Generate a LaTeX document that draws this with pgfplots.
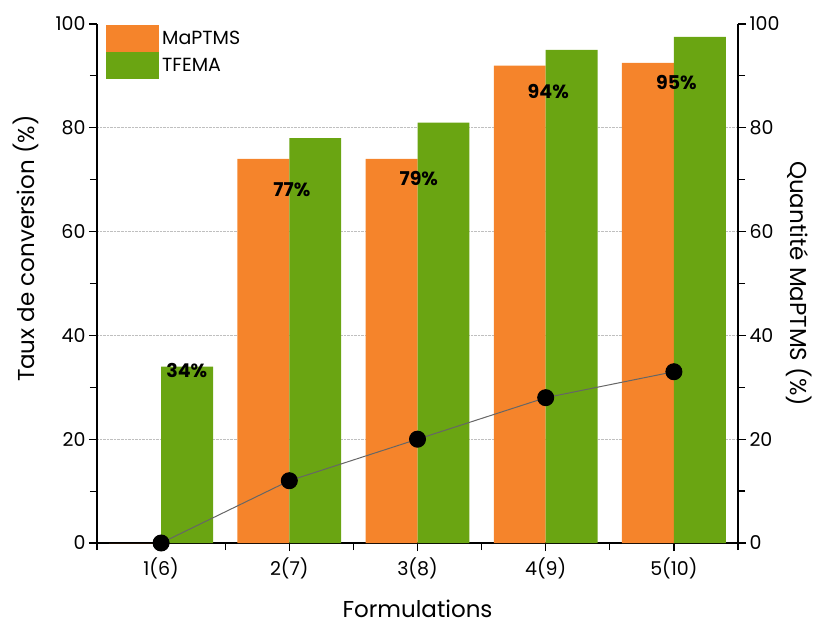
\documentclass[border=0pt]{standalone}
\usepackage{fontspec}
\setmainfont{Poppins}
\usepackage{pgfplots}
\pgfplotsset{compat=1.18}
\definecolor{oran}{RGB}{245,132,43}
\definecolor{gree}{RGB}{106,165,18}
\begin{document}
\begin{tikzpicture}
\useasboundingbox (-97bp,-84bp) rectangle (732bp,543bp);
\pgfplotsset{
  common/.style={
    scale only axis, width=641bp, height=519bp,
    xmin=0.5, xmax=5.5, ymin=0, ymax=100,
    /pgf/number format/assume math mode=true,
    tick label style={font=\fontsize{19bp}{22bp}\selectfont},
    label style={font=\fontsize{23bp}{27bp}\selectfont},
    major tick length=8bp, minor tick length=7bp,
    tick style={black, line width=1.2bp},
    axis line style={line width=1.3bp},
    tick align=outside,
    minor ytick={10,30,...,90},
  }
}
\begin{axis}[common,
  axis x line*=bottom, axis y line*=left,
  ytick={20,40,60,80}, extra y ticks={0,100}, extra y tick style={grid=none},
  xtick={1,...,5}, xticklabels={1(6),2(7),3(8),4(9),5(10)},
  xticklabel style={yshift=-3bp},
  minor xtick={0.5,1.5,...,5.5},
  ymajorgrids, grid style={densely dotted, gray!50, line width=0.6bp},
  xlabel={Formulations}, ylabel={Taux de conversion (\%)},
  xlabel style={yshift=-14bp},
  ylabel style={at={(ticklabel cs:0.567)}},
  legend style={at={(0,1)}, anchor=north west, xshift=9bp, yshift=-1bp,
    draw=none, fill=none, font=\fontsize{19bp}{22bp}\selectfont,
    inner sep=0pt, row sep=0pt, nodes={inner sep=3bp}},
  legend cell align=left,
  legend image code/.code={\fill[#1] (0bp,-13.5bp) rectangle (53bp,13.5bp);},
]
\addplot[ybar, bar width=0.405, bar shift=-0.2025, fill=oran, draw=none]
  coordinates {(1,0)(2,74)(3,74)(4,92)(5,92.5)};
\addlegendentry{MaPTMS}
\addplot[ybar, bar width=0.405, bar shift=0.2025, fill=gree, draw=none]
  coordinates {(1,34)(2,78)(3,81)(4,95)(5,97.5)};
\addlegendentry{TFEMA}
\addplot[forget plot, draw=none, mark=none, nodes near coords, point meta=explicit symbolic,
  nodes near coords style={font=\fontsize{19bp}{22bp}\selectfont\bfseries, anchor=center, text=black}]
  coordinates {(1.2,33.3)[34\%] (2.02,68)[77\%] (3.01,70.3)[79\%] (4.02,87)[94\%] (5.02,88.8)[95\%]};
\end{axis}
\begin{axis}[common,
  axis x line=none, axis y line*=right,
  ytick={0,20,...,100},
  ylabel={Quantité MaPTMS (\%)}, ylabel style={rotate=180},
]
\addplot[black!60, line width=1bp, mark=*, mark size=8bp, mark options={fill=black, draw=black}]
  coordinates {(1,0)(2,12)(3,20)(4,28)(5,33)};
\end{axis}
\end{tikzpicture}
\end{document}
